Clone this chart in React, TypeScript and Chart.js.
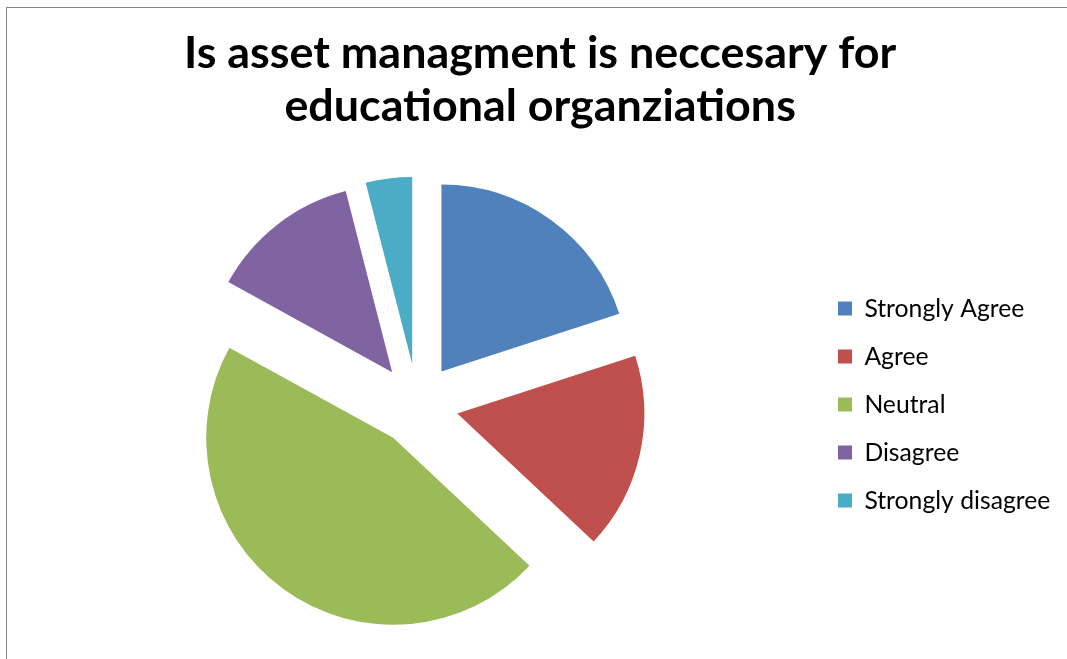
import React, { useEffect, useRef } from 'react';
import { Chart, registerables } from 'chart.js';

Chart.register(...registerables);

// ---- data ----
const TITLE_LINES = ['Is asset managment is neccesary for', 'educational organziations'];
const CATEGORIES = ['Strongly Agree', 'Agree', 'Neutral', 'Disagree', 'Strongly disagree'];
const VALUES = [20, 17, 46, 13, 4];
const COLORS = ['#4F81BD', '#C0504D', '#9BBB59', '#8064A2', '#4BACC6'];

// ---- style ----
const FONT = 'Lato, "Open Sans", sans-serif';
const CANVAS_W = 1060;
const CANVAS_H = 651;
const EXPLODE = 41;
const PIE_RADIUS = 187;
const PIE_CX = 410.3;
const PIE_CY = 396.6;
const TITLE_LH = 52.5;
const TITLE_BASELINE_1 = 60;
const TITLE_TARGET_W = 712 + 512;
const LEGEND_TARGET_W = 186;
const LEGEND_STEP = 48;
const LEGEND_MARKER_X = 831;
const BOX = 14;

const explodePlugin = {
  id: 'explode',
  afterDatasetUpdate(_chart: any, args: any) {
    for (const el of args.meta.data) {
      const mid = (el.startAngle + el.endAngle) / 2;
      el.x += Math.cos(mid) * EXPLODE;
      el.y += Math.sin(mid) * EXPLODE;
    }
  },
};

export default function App() {
  const ref = useRef<HTMLCanvasElement>(null);

  useEffect(() => {
    const canvas = ref.current!;
    const m = document.createElement('canvas').getContext('2d')!;

    m.font = `bold 100px ${FONT}`;
    const tw = TITLE_LINES.reduce((s, t) => s + m.measureText(t).width, 0);
    const titleSize = (100 * TITLE_TARGET_W) / tw;

    m.font = `bold ${titleSize}px ${FONT}`;
    m.textBaseline = 'alphabetic';
    const a1 = m.measureText('I').actualBoundingBoxAscent;
    m.textBaseline = 'middle';
    const a2 = m.measureText('I').actualBoundingBoxAscent;
    const middleOffset = a1 - a2;
    m.textBaseline = 'alphabetic';

    m.font = `100px ${FONT}`;
    const lw = m.measureText(CATEGORIES[4]).width;
    const legendSize = (100 * LEGEND_TARGET_W) / lw;
    const legendPad = LEGEND_STEP - legendSize;

    const legendLeft = LEGEND_MARKER_X - legendPad;
    const padLeft = 2 * PIE_CX - legendLeft;
    const padRight = CANVAS_W - (LEGEND_MARKER_X + BOX + legendSize / 2 + LEGEND_TARGET_W + 10);

    const pt = TITLE_BASELINE_1 - middleOffset - TITLE_LH / 2;
    const pb = 2 * PIE_CY - 2 * TITLE_LH - CANVAS_H - pt;

    const chart = new Chart(canvas, {
      type: 'pie',
      data: {
        labels: CATEGORIES,
        datasets: [
          {
            data: VALUES,
            backgroundColor: COLORS,
            borderWidth: 0,
            radius: PIE_RADIUS,
            clip: false,
          } as any,
        ],
      },
      options: {
        responsive: false,
        animation: false,
        events: [],
        radius: PIE_RADIUS,
        layout: { padding: { left: padLeft, right: padRight, top: 0, bottom: 0 } },
        plugins: {
          title: {
            display: true,
            text: TITLE_LINES,
            color: '#000',
            font: { family: FONT, weight: 'bold', size: titleSize, lineHeight: `${TITLE_LH}px` },
            padding: { top: pt, bottom: pb },
          },
          legend: {
            position: 'right',
            fullSize: false,
            labels: {
              boxWidth: BOX,
              boxHeight: BOX,
              padding: legendPad,
              color: '#000',
              font: { family: FONT, size: legendSize },
            },
          },
          tooltip: { enabled: false },
        },
      } as any,
      plugins: [explodePlugin],
    });

    return () => chart.destroy();
  }, []);

  return (
    <div
      style={{
        position: 'fixed',
        left: 0,
        top: 0,
        width: 1067,
        height: 659,
        overflow: 'hidden',
        background: '#fff',
      }}
    >
      <div
        style={{
          position: 'absolute',
          left: 6,
          top: 7,
          width: 1061,
          height: 652,
          borderLeft: '1px solid #878787',
          borderTop: '1px solid #878787',
        }}
      >
        <canvas ref={ref} width={CANVAS_W} height={CANVAS_H} style={{ display: 'block' }} />
      </div>
    </div>
  );
}
